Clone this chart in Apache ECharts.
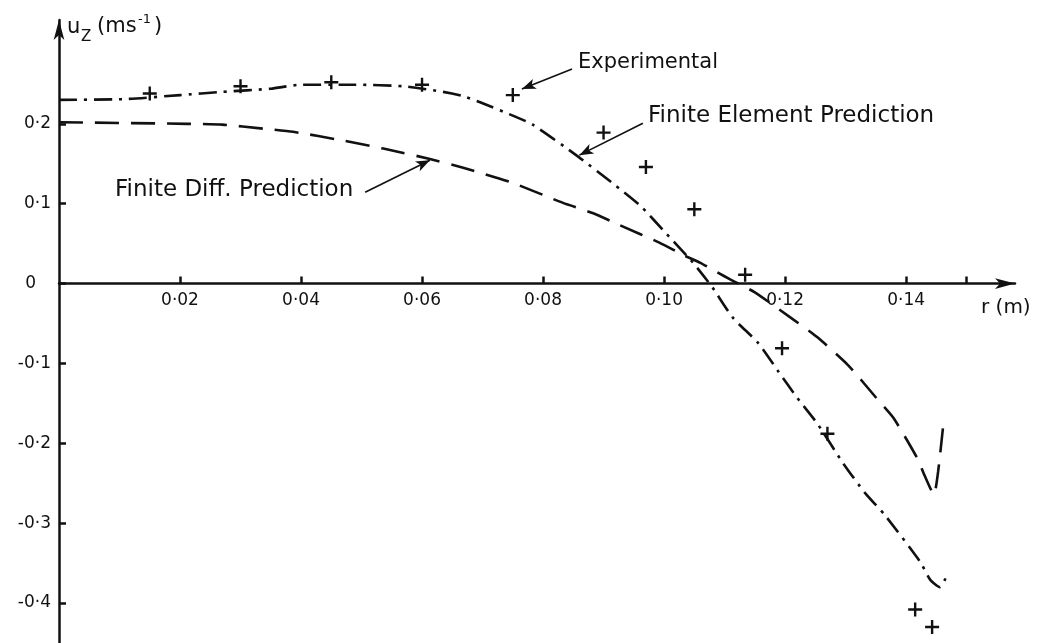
<!DOCTYPE html>
<html>
<head>
<meta charset="utf-8">
<script src="https://cdn.jsdelivr.net/npm/echarts@6/dist/echarts.min.js"></script>
<style>
html,body{margin:0;padding:0;background:#fff;}
#chart{width:1037px;height:643px;}
</style>
</head>
<body>
<div id="chart"></div>
<script>
// Experimental points
const expR = [0.015, 0.030, 0.045, 0.060, 0.075, 0.090, 0.097, 0.105, 0.1134, 0.1195, 0.127, 0.1415, 0.1443];
const expU = [0.238, 0.247, 0.252, 0.249, 0.236, 0.189, 0.146, 0.093, 0.011, -0.081, -0.188, -0.408, -0.430];

// Finite Element Prediction (dash-dot)
const feR = [0, 0.011, 0.020, 0.027, 0.035, 0.040, 0.049, 0.057, 0.0635, 0.0666, 0.0696, 0.0754, 0.0783, 0.0858, 0.0916, 0.096, 0.1002, 0.1048, 0.108, 0.1114, 0.1155, 0.1188, 0.122, 0.1253, 0.1296, 0.1332, 0.1364, 0.1423, 0.144, 0.1456, 0.1464, 0.1468];
const feU = [0.230, 0.231, 0.236, 0.240, 0.244, 0.249, 0.249, 0.247, 0.240, 0.235, 0.227, 0.209, 0.199, 0.159, 0.125, 0.098, 0.064, 0.026, -0.005, -0.043, -0.074, -0.109, -0.143, -0.175, -0.225, -0.262, -0.289, -0.348, -0.371, -0.380, -0.371, -0.361];

// Finite Difference Prediction (dashed)
const fdR = [0, 0.0212, 0.027, 0.0337, 0.0387, 0.047, 0.0536, 0.0613, 0.0668, 0.075, 0.0833, 0.0883, 0.0927, 0.0993, 0.1031, 0.106, 0.1088, 0.111, 0.115, 0.1208, 0.1253, 0.1304, 0.1354, 0.1379, 0.1418, 0.1431, 0.1446, 0.1453, 0.1461];
const fdU = [0.202, 0.200, 0.199, 0.194, 0.190, 0.179, 0.169, 0.156, 0.145, 0.126, 0.101, 0.088, 0.073, 0.051, 0.036, 0.026, 0.014, 0.005, -0.011, -0.042, -0.067, -0.102, -0.146, -0.168, -0.218, -0.241, -0.264, -0.235, -0.180];

// Tick values
const xLabelValues = [0.02, 0.04, 0.06, 0.08, 0.10, 0.12, 0.14];
const xTickValues = [0.02, 0.04, 0.06, 0.08, 0.10, 0.12, 0.14, 0.15];
const yTickValues = [-0.4, -0.3, -0.2, -0.1, 0, 0.1, 0.2];

// Annotation arrows (data coordinates: [from, to])
const arrowExp = [[0.0848, 0.2686], [0.0765, 0.2435]];
const arrowFE = [[0.0965, 0.2008], [0.0860, 0.1608]];
const arrowFD = [[0.0506, 0.1144], [0.0613, 0.1545]];

const FONT = '"DejaVu Sans", sans-serif';
const INK = '#111';

function zip(a, b) { return a.map((v, i) => [v, b[i]]); }
function arrowLine(p) {
  return [{ coord: p[0], symbol: 'none' }, { coord: p[1], symbol: 'arrow', symbolSize: [8, 14] }];
}

const chart = echarts.init(document.getElementById('chart'), null, { renderer: 'canvas' });

const GRID = { left: 59, right: 22, top: 20, bottom: 0, containLabel: false, outerBoundsMode: 'none' };

chart.setOption({
  animation: false,
  backgroundColor: '#fff',
  grid: GRID,
  xAxis: {
    type: 'value', min: 0, max: 0.158, position: 'bottom', offset: 0,
    axisLine: { onZero: false, symbol: ['none', 'arrow'], symbolSize: [8, 20], lineStyle: { color: INK, width: 2.5 } },
    axisTick: { show: true, inside: true, length: 7, customValues: xTickValues, lineStyle: { color: INK, width: 2.5 } },
    axisLabel: {
      customValues: xLabelValues, margin: 9, color: INK, fontFamily: FONT, fontSize: 17,
      formatter: v => v.toFixed(2).replace('.', '·')
    },
    splitLine: { show: false }
  },
  yAxis: {
    type: 'value', min: -0.45, max: 0.33,
    axisLine: { onZero: false, symbol: ['none', 'arrow'], symbolSize: [8, 20], lineStyle: { color: INK, width: 2.5 } },
    axisTick: { show: true, inside: true, length: 7, customValues: yTickValues, lineStyle: { color: INK, width: 2.5 } },
    axisLabel: {
      customValues: yTickValues, margin: 8, color: INK, fontFamily: FONT, fontSize: 17,
      formatter: v => Math.abs(v) < 1e-9 ? '{z|0}' : v.toFixed(1).replace('.', '·'),
      rich: { z: { fontFamily: FONT, fontSize: 17, color: INK, padding: [0, 15, 0, 0] } }
    },
    splitLine: { show: false }
  },
  series: [
    {
      name: 'Finite Element Prediction', type: 'line', data: zip(feR, feU),
      showSymbol: false, smooth: 0.2,
      lineStyle: { color: INK, width: 2.6, type: [18, 7, 3, 7] },
      markLine: {
        silent: true, label: { show: false },
        lineStyle: { color: INK, width: 1.6, type: 'solid' },
        data: [arrowLine(arrowExp), arrowLine(arrowFE), arrowLine(arrowFD)]
      }
    },
    {
      name: 'Finite Diff. Prediction', type: 'line', data: zip(fdR, fdU),
      showSymbol: false, smooth: 0.2,
      lineStyle: { color: INK, width: 2.6, type: [24, 12] }
    },
    {
      name: 'Experimental', type: 'scatter', data: zip(expR, expU),
      symbol: 'path://M5.8,0H8.2V5.8H14V8.2H8.2V14H5.8V8.2H0V5.8H5.8Z', symbolSize: 14,
      itemStyle: { color: INK, opacity: 1 }
    }
  ],
  graphic: [
    { type: 'text', x: 67, y: 28, style: { text: 'u', font: '21px ' + FONT, fill: INK, verticalAlign: 'middle' } },
    { type: 'text', x: 81, y: 37, style: { text: 'Z', font: '15px ' + FONT, fill: INK, verticalAlign: 'middle' } },
    { type: 'text', x: 97, y: 27, style: { text: '(ms', font: '21px ' + FONT, fill: INK, verticalAlign: 'middle' } },
    { type: 'text', x: 138, y: 20, style: { text: '-1', font: '13px ' + FONT, fill: INK, verticalAlign: 'middle' } },
    { type: 'text', x: 154, y: 27, style: { text: ')', font: '21px ' + FONT, fill: INK, verticalAlign: 'middle' } },
    { type: 'text', x: 981, y: 308, style: { text: 'r (m)', font: '20px ' + FONT, fill: INK, verticalAlign: 'middle' } },
    { type: 'text', x: 578, y: 63, style: { text: 'Experimental', font: '21px ' + FONT, fill: INK, verticalAlign: 'middle' } },
    { type: 'text', x: 648, y: 116, style: { text: 'Finite Element Prediction', font: '23px ' + FONT, fill: INK, verticalAlign: 'middle' } },
    { type: 'text', x: 115, y: 190, style: { text: 'Finite Diff. Prediction', font: '23px ' + FONT, fill: INK, verticalAlign: 'middle' } }
  ]
});

// Move the x axis (line, ticks, labels) up to u = 0, computed through the y scale
const zeroY = chart.convertToPixel({ yAxisIndex: 0 }, 0);
const gridBottomY = chart.getHeight() - GRID.bottom;
chart.setOption({ xAxis: { offset: -(gridBottomY - zeroY) } });
</script>
</body>
</html>
